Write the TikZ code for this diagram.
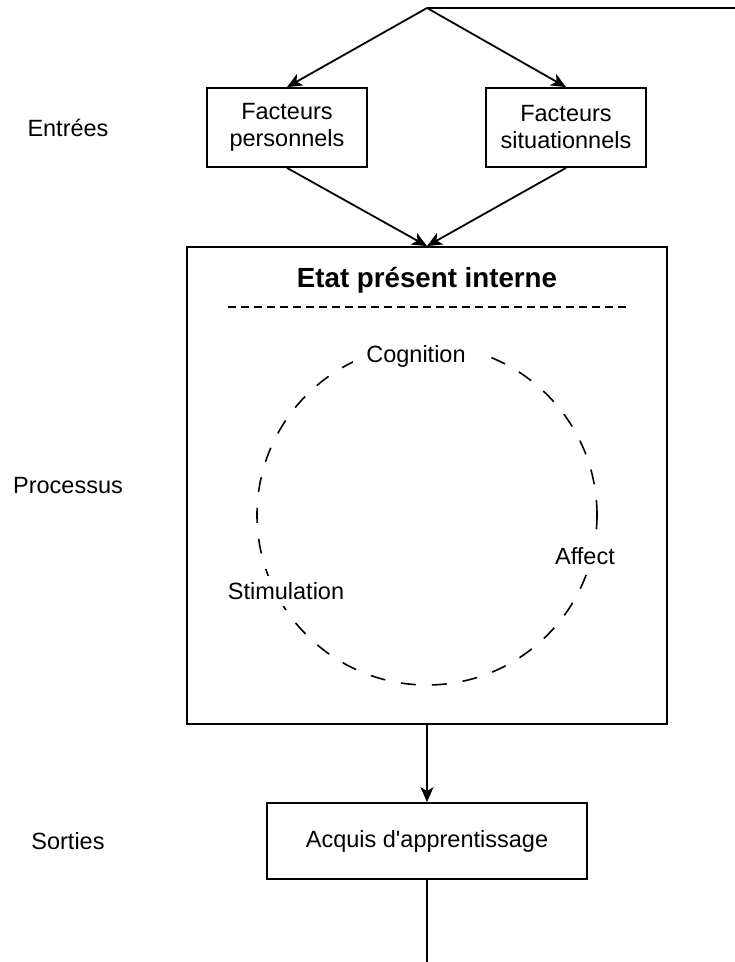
\documentclass[tikz,border=0pt]{standalone}
\usepackage{fontspec}
\setmainfont{Liberation Sans}
\usetikzlibrary{arrows.meta}

\begin{document}
\begin{tikzpicture}[x=1pt, y=-1pt, line width=1.8pt,
  txt/.style={font=\fontsize{23.5}{27}\selectfont, align=center},
  box/.style={txt, draw, inner sep=0pt},
  etiq/.style={txt, fill=white, inner xsep=13pt, inner ysep=6pt},
  arr/.style={-{Stealth[length=15pt, width=13pt, inset=4pt]}}]
\useasboundingbox (0,0) rectangle (735,962);

\coordinate (fork) at (427, 8);
\coordinate (haut) at (735, 8);
\coordinate (bas) at (427, 962);

\node[box, minimum width=160pt, minimum height=79pt] (pers) at (287, 127.5) {Facteurs\\personnels};
\node[box, minimum width=160pt, minimum height=79pt] (situ) at (566, 127.5) {Facteurs\\situationnels};
\node[box, minimum width=480pt, minimum height=477pt] (etat) at (427, 485.5) {};
\node[box, minimum width=320pt, minimum height=76pt] (acquis) at (427, 841) {Acquis d\textquotesingle apprentissage};

\node[font=\bfseries\fontsize{27.7}{32}\selectfont] (titre) at (427, 280) {Etat présent interne};
\draw[line width=1.2pt, dash pattern=on 8pt off 5pt] (228, 307) -- (627, 307);

\draw[line width=1.6pt, dash pattern=on 15pt off 16pt] (427, 515) circle (170pt);
\node[etiq] (cognition) at (416, 356) {Cognition};
\node[etiq] (affect) at (585, 556) {Affect};
\node[etiq] (stim) at (286, 591) {Stimulation};

\node[txt] (entrees) at (68, 127.5) {Entrées};
\node[txt] (processus) at (68, 485.5) {Processus};
\node[txt] (sorties) at (68, 841) {Sorties};

\draw (haut) -- (fork);
\draw[arr] (fork) -- (pers.north);
\draw[arr] (fork) -- (situ.north);
\draw[arr] (pers.south) -- (etat.north);
\draw[arr] (situ.south) -- (etat.north);
\draw[arr] (etat.south) -- (acquis.north);
\draw (acquis.south) -- (bas);
\end{tikzpicture}
\end{document}
